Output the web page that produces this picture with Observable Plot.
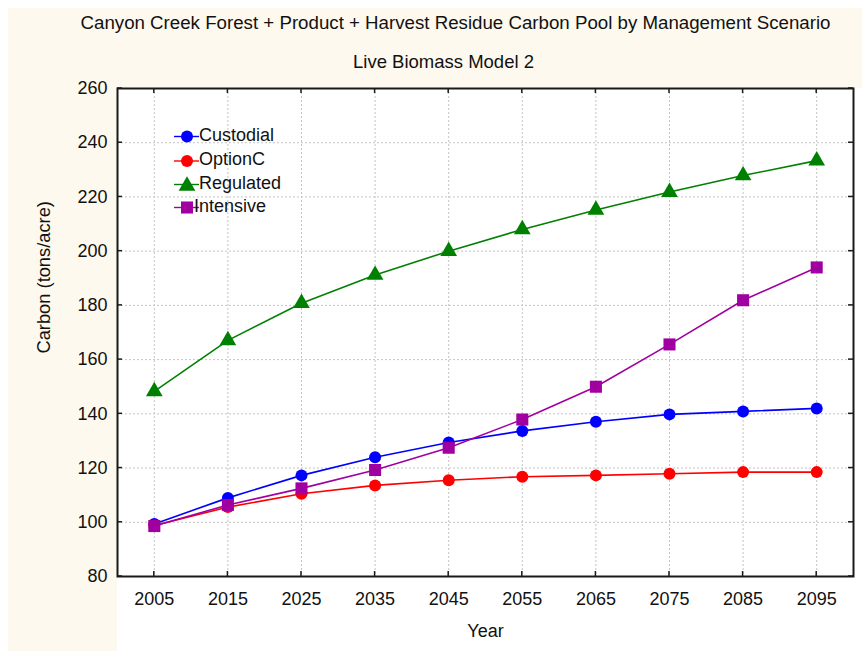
<!DOCTYPE html>
<html>
<head>
<meta charset="utf-8">
<script src="https://cdn.jsdelivr.net/npm/d3@7"></script>
<script src="https://cdn.jsdelivr.net/npm/@observablehq/plot@0.6"></script>
<style>
  html, body { margin: 0; padding: 0; background: white; }
  #chart { width: 862px; height: 651px; }
</style>
</head>
<body>
<div id="chart"></div>
<script>
const title = "Canyon Creek Forest + Product + Harvest Residue Carbon Pool by Management Scenario";
const subtitle = "Live Biomass Model 2";
const xLabel = "Year";
const yLabel = "Carbon (tons/acre)";

const years = [2005, 2015, 2025, 2035, 2045, 2055, 2065, 2075, 2085, 2095];
const yTicks = [80, 100, 120, 140, 160, 180, 200, 220, 240, 260];

const seriesNames = ["Custodial", "OptionC", "Regulated", "Intensive"];
const seriesColors = ["#0000ff", "#ff0000", "#008000", "#a000a0"];
const seriesSymbols = ["circle", "circle", "triangle", "square"];

const custodial = [99.4, 109.0, 117.3, 124.0, 129.4, 133.7, 137.1, 139.8, 140.9, 142.0];
const optionC   = [98.8, 105.6, 110.5, 113.6, 115.5, 116.8, 117.3, 117.9, 118.5, 118.5];
const regulated = [148.3, 167.1, 180.8, 191.2, 200.0, 208.0, 215.2, 221.8, 227.9, 233.4];
const intensive = [98.6, 106.4, 112.5, 119.3, 127.5, 137.9, 150.0, 165.6, 181.9, 194.0];

const seriesValues = [custodial, optionC, regulated, intensive];

(function () {
const series = seriesNames.map((name, i) => ({
  name,
  color: seriesColors[i],
  symbol: seriesSymbols[i],
  rows: years.map((year, j) => ({ year, value: seriesValues[i][j], name }))
}));

const symbolR = { circle: 6, triangle: 6.2, square: 6.8 };
const font = "'Liberation Sans', Arial, Helvetica, sans-serif";

const marks = [
  Plot.gridX(years, { stroke: "#c4c4c4", strokeOpacity: 1, strokeDasharray: "2,2", strokeWidth: 1 }),
  Plot.gridY(yTicks, { stroke: "#c4c4c4", strokeOpacity: 1, strokeDasharray: "2,2", strokeWidth: 1 }),
  Plot.axisX({ ticks: years, tickSize: 0, tickPadding: 16, tickFormat: d => String(d), label: null, fontSize: 18, fill: "#111" }),
  Plot.axisY({ ticks: yTicks, tickSize: 0, tickPadding: 10, label: null, fontSize: 18, fill: "#111" }),
];

for (const s of series) {
  marks.push(Plot.line(s.rows, { x: "year", y: "value", stroke: s.color, strokeWidth: 1.6 }));
  marks.push(Plot.dot(s.rows, { x: "year", y: "value", fill: s.color, stroke: "none", symbol: s.symbol, r: symbolR[s.symbol] }));
}

marks.push(Plot.frame({ stroke: "#1a1a1a", strokeWidth: 2 }));
marks.push(Plot.text([title], { frameAnchor: "top", text: d => d, dx: -30, dy: -73, fontSize: 18.7, fill: "#111" }));
marks.push(Plot.text([subtitle], { frameAnchor: "top", text: d => d, dx: -42, dy: -34, fontSize: 18.5, fill: "#111" }));
marks.push(Plot.text([xLabel], { frameAnchor: "bottom", text: d => d, dx: 0, dy: 60, fontSize: 18, fill: "#111" }));
marks.push(Plot.text([yLabel], { frameAnchor: "left", text: d => d, dx: -73.5, dy: 21, rotate: -90, fontSize: 18.3, fill: "#111" }));

const chart = Plot.plot({
  width: 862,
  height: 651,
  marginLeft: 117,
  marginRight: 9,
  marginTop: 88,
  marginBottom: 75,
  x: { domain: [2000, 2100] },
  y: { domain: [80, 260] },
  style: { fontFamily: font, fontSize: "18px", background: "white", overflow: "visible" },
  marks
});

document.getElementById("chart").appendChild(chart);

const svg = d3.select(chart);
const xs = chart.scale("x");
const ys = chart.scale("y");
const fLeft = 117, fRight = 853, fTop = 88, fBottom = 576;
const cream = "#fdf9ee";

svg.insert("rect", ":first-child").attr("x", 8).attr("y", 8).attr("width", 854).attr("height", fTop - 8).attr("fill", cream);
svg.insert("rect", ":first-child").attr("x", 8).attr("y", 8).attr("width", fLeft - 8).attr("height", 651 - 8).attr("fill", cream);

const tg = svg.append("g").attr("stroke", "#1a1a1a").attr("stroke-width", 1.5);
for (const yr of years) {
  const px = xs.apply(yr);
  tg.append("line").attr("x1", px).attr("x2", px).attr("y1", fBottom).attr("y2", fBottom - 5);
  tg.append("line").attr("x1", px).attr("x2", px).attr("y1", fTop).attr("y2", fTop + 5);
}
for (const v of yTicks) {
  const py = ys.apply(v);
  tg.append("line").attr("y1", py).attr("y2", py).attr("x1", fLeft).attr("x2", fLeft + 5);
  tg.append("line").attr("y1", py).attr("y2", py).attr("x1", fRight).attr("x2", fRight - 5);
}

const legendLineY = [136.5, 161, 184.5, 207.5];
const legendTextX = [199, 199, 199, 194];
const lg = svg.append("g").attr("text-anchor", "start");
series.forEach((s, i) => {
  const ly = legendLineY[i];
  lg.append("line").attr("x1", 174).attr("x2", 199).attr("y1", ly).attr("y2", ly)
    .attr("stroke", s.color).attr("stroke-width", 1.4);
  const sym = s.symbol === "circle" ? d3.symbolCircle : s.symbol === "triangle" ? d3.symbolTriangle : d3.symbolSquare;
  const rr = symbolR[s.symbol];
  lg.append("path").attr("d", d3.symbol(sym, Math.PI * rr * rr)())
    .attr("transform", `translate(187,${ly + (s.symbol === "triangle" ? 1.5 : 0)})`)
    .attr("fill", s.color);
  lg.append("text").attr("x", legendTextX[i]).attr("y", ly - 2).attr("dy", "0.35em")
    .attr("text-anchor", "start")
    .attr("font-size", 18).attr("font-family", font).attr("fill", "#111").text(s.name);
});
})();
</script>
</body>
</html>
